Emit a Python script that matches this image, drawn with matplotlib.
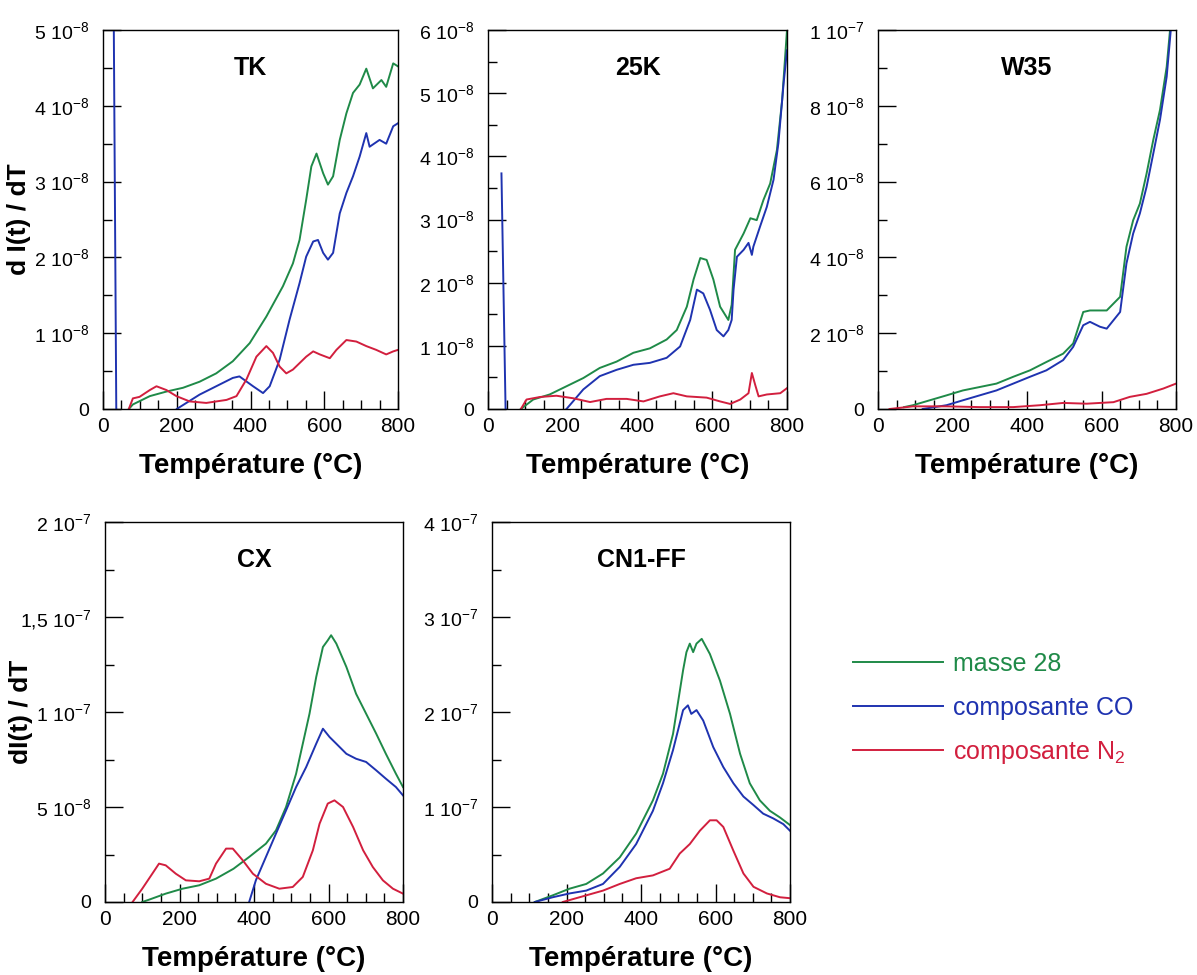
import matplotlib
matplotlib.use("Agg")
import matplotlib.pyplot as plt
from matplotlib.ticker import FixedLocator, FixedFormatter, MultipleLocator

plt.rcParams['font.family'] = ['Liberation Sans', 'DejaVu Sans']
plt.rcParams['mathtext.fontset'] = 'custom'
plt.rcParams['mathtext.rm'] = 'Liberation Sans'
plt.rcParams['mathtext.it'] = 'Liberation Sans:italic'
plt.rcParams['mathtext.bf'] = 'Liberation Sans:bold'

# ---------------- data (y values in units of 1e-8) ----------------
series_names = ["masse 28", "composante CO", r"composante N$_2$"]
colors = ["#1f8a48", "#1f33b0", "#d21f3e"]

# TK
tk_T_green = [70, 81, 127, 172, 217, 262, 307, 352, 398, 443, 488, 515, 533, 551, 565, 579, 597, 610, 624, 642, 660, 678, 696, 714, 732, 755, 768, 787, 800]
tk_green = [0.0, 0.06, 0.17, 0.23, 0.28, 0.36, 0.47, 0.63, 0.87, 1.22, 1.62, 1.92, 2.23, 2.76, 3.2, 3.37, 3.11, 2.96, 3.07, 3.55, 3.9, 4.17, 4.28, 4.49, 4.23, 4.34, 4.25, 4.56, 4.52]
tk_T_blue = [28, 36, 45, 190, 200, 262, 352, 370, 407, 434, 452, 479, 506, 533, 551, 570, 583, 597, 610, 624, 642, 660, 678, 696, 714, 723, 750, 768, 787, 800]
tk_blue = [6.0, 0.0, -0.05, -0.05, 0.0, 0.19, 0.41, 0.43, 0.3, 0.21, 0.3, 0.65, 1.18, 1.66, 2.01, 2.21, 2.23, 2.06, 1.97, 2.06, 2.58, 2.85, 3.07, 3.33, 3.64, 3.46, 3.55, 3.5, 3.73, 3.77]
tk_T_red = [70, 81, 99, 127, 145, 172, 199, 235, 280, 335, 362, 389, 416, 443, 461, 479, 497, 515, 551, 570, 588, 615, 633, 660, 687, 714, 741, 768, 787, 800]
tk_red = [0.0, 0.14, 0.16, 0.25, 0.3, 0.25, 0.17, 0.1, 0.08, 0.12, 0.17, 0.39, 0.69, 0.83, 0.74, 0.56, 0.47, 0.52, 0.69, 0.76, 0.72, 0.67, 0.78, 0.91, 0.89, 0.83, 0.78, 0.72, 0.76, 0.78]

# 25K
k25_T_green = [88, 121, 165, 210, 255, 299, 344, 389, 433, 478, 505, 532, 550, 568, 585, 603, 621, 643, 652, 661, 684, 702, 719, 737, 755, 773, 787, 800]
k25_green = [0.0, 0.15, 0.23, 0.36, 0.49, 0.65, 0.75, 0.89, 0.96, 1.1, 1.25, 1.62, 2.05, 2.39, 2.36, 2.05, 1.62, 1.41, 1.65, 2.52, 2.78, 3.02, 2.99, 3.31, 3.57, 4.1, 4.89, 6.0]
k25_T_blue = [36, 47, 60, 200, 210, 255, 299, 344, 389, 433, 478, 514, 541, 559, 576, 594, 612, 630, 643, 652, 657, 666, 684, 697, 706, 710, 728, 746, 764, 777, 791, 800]
k25_blue = [3.73, 0.0, -0.05, -0.05, 0.0, 0.31, 0.52, 0.62, 0.70, 0.73, 0.81, 0.99, 1.41, 1.89, 1.83, 1.57, 1.25, 1.15, 1.25, 1.41, 1.89, 2.41, 2.52, 2.63, 2.44, 2.57, 2.89, 3.2, 3.63, 4.21, 5.16, 5.68]
k25_T_red = [88, 103, 139, 183, 228, 273, 317, 371, 416, 460, 496, 532, 585, 621, 648, 675, 697, 706, 715, 724, 746, 782, 800]
k25_red = [0.0, 0.15, 0.19, 0.21, 0.17, 0.11, 0.16, 0.16, 0.12, 0.2, 0.25, 0.2, 0.18, 0.12, 0.08, 0.15, 0.25, 0.57, 0.38, 0.2, 0.23, 0.25, 0.33]

# W35
w35_T_green = [70, 94, 139, 184, 228, 273, 318, 363, 408, 452, 497, 524, 551, 569, 596, 614, 632, 650, 667, 685, 703, 721, 739, 757, 775, 784]
w35_green = [0.05, 0.1, 0.23, 0.36, 0.49, 0.58, 0.67, 0.85, 1.02, 1.24, 1.46, 1.73, 2.56, 2.6, 2.6, 2.6, 2.78, 2.96, 4.28, 4.98, 5.42, 6.21, 7.1, 7.89, 9.03, 10.0]
w35_T_blue = [120, 184, 228, 273, 318, 363, 408, 452, 497, 524, 551, 569, 596, 614, 632, 650, 667, 685, 703, 721, 739, 757, 775, 786]
w35_blue = [0.0, 0.1, 0.23, 0.36, 0.49, 0.67, 0.85, 1.02, 1.29, 1.64, 2.21, 2.3, 2.17, 2.12, 2.34, 2.56, 3.84, 4.63, 5.16, 5.86, 6.74, 7.63, 8.77, 10.0]
w35_T_red = [31, 94, 184, 273, 363, 435, 497, 560, 632, 676, 721, 766, 800]
w35_red = [0.0, 0.07, 0.07, 0.05, 0.05, 0.1, 0.16, 0.14, 0.18, 0.32, 0.4, 0.54, 0.67]

# CX
cx_T_green = [100, 118, 163, 208, 253, 298, 345, 387, 432, 459, 486, 513, 531, 549, 567, 585, 598, 607, 621, 648, 674, 701, 728, 754, 781, 800]
cx_green = [0.0, 0.12, 0.44, 0.7, 0.88, 1.23, 1.75, 2.37, 3.07, 3.77, 5.0, 6.75, 8.33, 9.91, 11.84, 13.42, 13.77, 14.04, 13.6, 12.37, 10.96, 9.91, 8.86, 7.8, 6.75, 6.05]
cx_T_blue = [387, 405, 432, 459, 486, 513, 540, 567, 585, 603, 621, 648, 674, 701, 728, 754, 781, 800]
cx_blue = [0.0, 1.14, 2.37, 3.6, 4.82, 6.05, 7.1, 8.33, 9.12, 8.68, 8.33, 7.8, 7.54, 7.37, 6.93, 6.49, 6.05, 5.61]
cx_T_red = [74, 100, 127, 145, 163, 190, 217, 253, 280, 298, 325, 343, 370, 397, 432, 468, 504, 531, 558, 576, 598, 616, 639, 666, 693, 719, 746, 773, 800]
cx_red = [0.0, 0.7, 1.49, 2.02, 1.93, 1.49, 1.14, 1.09, 1.23, 2.02, 2.81, 2.81, 2.19, 1.49, 0.96, 0.7, 0.79, 1.32, 2.72, 4.12, 5.18, 5.35, 5.0, 3.95, 2.72, 1.84, 1.14, 0.7, 0.44]

# CN1-FF
cn_T_green = [115, 163, 208, 253, 298, 343, 387, 432, 459, 486, 513, 522, 531, 540, 549, 563, 585, 612, 639, 666, 692, 719, 746, 773, 800]
cn_green = [0.0, 0.7, 1.4, 1.9, 3.0, 4.7, 7.2, 10.7, 13.5, 17.7, 24.4, 26.3, 27.2, 26.3, 27.2, 27.7, 26.1, 23.3, 19.8, 15.6, 12.5, 10.7, 9.6, 8.9, 8.1]
cn_T_blue = [115, 163, 208, 253, 298, 343, 387, 432, 459, 486, 513, 526, 535, 549, 567, 594, 621, 648, 675, 702, 728, 755, 782, 800]
cn_blue = [0.0, 0.5, 0.9, 1.2, 1.9, 3.7, 6.1, 9.6, 12.5, 16.0, 20.2, 20.7, 19.8, 20.2, 19.1, 16.3, 14.2, 12.5, 11.1, 10.2, 9.3, 8.8, 8.2, 7.5]
cn_T_red = [190, 208, 253, 298, 343, 387, 432, 477, 504, 531, 558, 585, 603, 621, 648, 675, 702, 738, 773, 800]
cn_red = [0.0, 0.2, 0.7, 1.2, 1.9, 2.5, 2.8, 3.5, 5.1, 6.1, 7.5, 8.6, 8.6, 7.9, 5.4, 3.0, 1.6, 0.9, 0.5, 0.4]

# tick labels
tk_yticks = [0, 1, 2, 3, 4, 5]
tk_ylabels = ["0", r"1 10$^{-8}$", r"2 10$^{-8}$", r"3 10$^{-8}$", r"4 10$^{-8}$", r"5 10$^{-8}$"]
k25_yticks = [0, 1, 2, 3, 4, 5, 6]
k25_ylabels = ["0", r"1 10$^{-8}$", r"2 10$^{-8}$", r"3 10$^{-8}$", r"4 10$^{-8}$", r"5 10$^{-8}$", r"6 10$^{-8}$"]
w35_yticks = [0, 2, 4, 6, 8, 10]
w35_ylabels = ["0", r"2 10$^{-8}$", r"4 10$^{-8}$", r"6 10$^{-8}$", r"8 10$^{-8}$", r"1 10$^{-7}$"]
cx_yticks = [0, 5, 10, 15, 20]
cx_ylabels = ["0", r"5 10$^{-8}$", r"1 10$^{-7}$", r"1,5 10$^{-7}$", r"2 10$^{-7}$"]
cn_yticks = [0, 10, 20, 30, 40]
cn_ylabels = ["0", r"1 10$^{-7}$", r"2 10$^{-7}$", r"3 10$^{-7}$", r"4 10$^{-7}$"]
xticks = [0, 200, 400, 600, 800]

panels = [
    dict(title="TK", ylabel="d I(t) / dT", ymax=5, yticks=tk_yticks, ylabels=tk_ylabels, minor=0.5,
         data=[(tk_T_green, tk_green), (tk_T_blue, tk_blue), (tk_T_red, tk_red)],
         rect=(103, 30, 398, 409)),
    dict(title="25K", ylabel=None, ymax=6, yticks=k25_yticks, ylabels=k25_ylabels, minor=0.5,
         data=[(k25_T_green, k25_green), (k25_T_blue, k25_blue), (k25_T_red, k25_red)],
         rect=(488, 30, 787, 409)),
    dict(title="W35", ylabel=None, ymax=10, yticks=w35_yticks, ylabels=w35_ylabels, minor=1,
         data=[(w35_T_green, w35_green), (w35_T_blue, w35_blue), (w35_T_red, w35_red)],
         rect=(878, 30, 1176, 409)),
    dict(title="CX", ylabel="dI(t) / dT", ymax=20, yticks=cx_yticks, ylabels=cx_ylabels, minor=2.5,
         data=[(cx_T_green, cx_green), (cx_T_blue, cx_blue), (cx_T_red, cx_red)],
         rect=(105, 522, 403, 902)),
    dict(title="CN1-FF", ylabel=None, ymax=40, yticks=cn_yticks, ylabels=cn_ylabels, minor=5,
         data=[(cn_T_green, cn_green), (cn_T_blue, cn_blue), (cn_T_red, cn_red)],
         rect=(492, 522, 790, 902)),
]

W, H = 1197, 975
fig = plt.figure(figsize=(W / 100, H / 100), dpi=100)

handles = None
for p in panels:
    l, t, r, b = p["rect"]
    ax = fig.add_axes([l / W, (H - b) / H, (r - l) / W, (b - t) / H])
    lines = []
    for (xs, ys), c in zip(p["data"], colors):
        ln, = ax.plot(xs, ys, color=c, lw=1.4)
        lines.append(ln)
    if handles is None:
        handles = lines
    ax.set_xlim(0, 800)
    ax.set_ylim(0, p["ymax"])
    ax.xaxis.set_major_locator(FixedLocator(xticks))
    ax.xaxis.set_minor_locator(MultipleLocator(50))
    ax.yaxis.set_major_locator(FixedLocator(p["yticks"]))
    ax.yaxis.set_major_formatter(FixedFormatter(p["ylabels"]))
    ax.yaxis.set_minor_locator(MultipleLocator(p["minor"]))
    ax.tick_params(which="both", direction="in", top=False, right=False, labelsize=14, color="black")
    ax.tick_params(axis="x", labelsize=15)
    ax.tick_params(which="major", length=13, width=1.0)
    ax.tick_params(which="minor", length=6.5, width=1.0)
    ax.tick_params(axis="y", pad=10)
    ax.tick_params(axis="x", pad=6)
    for s in ax.spines.values():
        s.set_linewidth(1.0)
    ax.text(0.5, 0.90, p["title"], transform=ax.transAxes, ha="center", va="center",
            fontsize=18, fontweight="bold")
    ax.set_xlabel("Température (°C)", fontsize=20, fontweight="bold")
    ax.xaxis.set_label_coords(0.5, -57 / (b - t))
    ax.xaxis.label.set_va("center")
    if p["ylabel"]:
        ax.set_ylabel(p["ylabel"], fontsize=19, fontweight="bold")
        ax.yaxis.set_label_coords(-84 / (r - l), 0.5)
        ax.yaxis.label.set_va("center")

fig.legend(handles, series_names, loc="upper left",
           bbox_to_anchor=(853 / W, (H - 652) / H), frameon=False,
           fontsize=18, handlelength=3.6, handletextpad=0.4, labelspacing=0.78,
           borderpad=0, borderaxespad=0, labelcolor="linecolor")

fig.savefig("out.png", dpi=100)
